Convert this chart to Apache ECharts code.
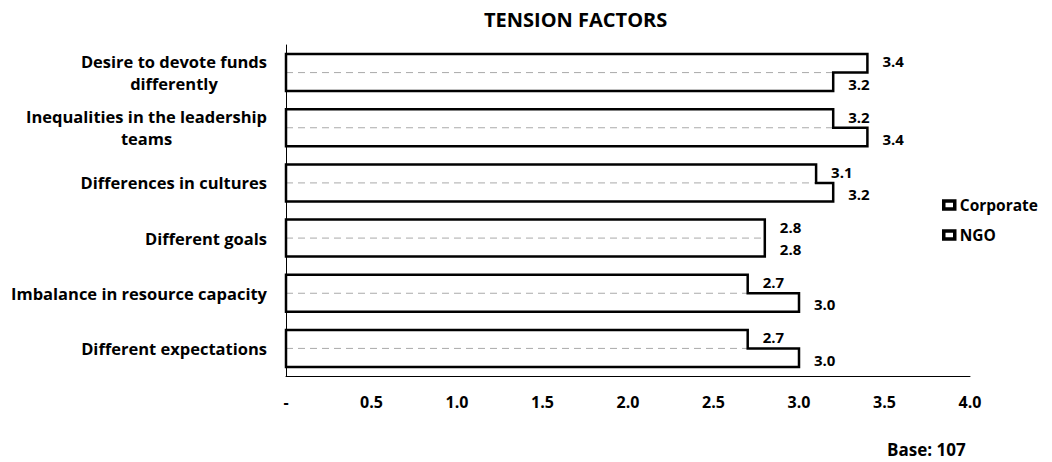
<!DOCTYPE html>
<html>
<head>
<meta charset="utf-8">
<title>Tension factors</title>
<script src="https://cdn.jsdelivr.net/npm/echarts@6/dist/echarts.min.js"></script>
<style>
  html, body { margin: 0; padding: 0; background: #fff; }
  #main { width: 1052px; height: 462px; }
</style>
</head>
<body>
<div id="main"></div>
<script>
// categories, top to bottom
var categories = [
  'Desire to devote funds\ndifferently',
  'Inequalities in the leadership\nteams',
  'Differences in cultures',
  'Different goals',
  'Imbalance in resource capacity',
  'Different expectations'
];
var corporate = [3.4, 3.2, 3.1, 2.8, 2.7, 2.7];
var ngo = [3.2, 3.4, 3.2, 2.8, 3.0, 3.0];
var xTicks = [0, 0.5, 1.0, 1.5, 2.0, 2.5, 3.0, 3.5, 4.0];

var FONT = 'Open Sans';
var gap = 0.33; // category gap ratio

// outline of each pair (stepped shape like the original)
var outline = categories.map(function (c, i) { return [i, corporate[i], ngo[i]]; });

function valueLabel(dy) {
  return {
    show: true, position: 'right', distance: 15, offset: [0, dy],
    fontFamily: FONT, fontWeight: 'bold', fontSize: 15, lineHeight: 15, color: '#000',
    formatter: function (p) { return p.value.toFixed(1); }
  };
}

var chart = echarts.init(document.getElementById('main'), null, { renderer: 'svg' });

chart.setOption({
  animation: false,
  textStyle: { fontFamily: FONT },
  title: {
    text: 'TENSION FACTORS',
    left: 479, top: 4,
    textStyle: { fontFamily: FONT, fontWeight: 'bold', fontSize: 20, color: '#000' }
  },
  legend: {
    orient: 'vertical',
    left: 937, top: 192,
    itemWidth: 11, itemHeight: 8, itemGap: 14,
    icon: 'rect',
    textStyle: { fontFamily: FONT, fontWeight: 'bold', fontSize: 15.5, color: '#000' },
    data: [
      { name: 'Corporate', itemStyle: { color: '#fff', borderColor: '#000', borderWidth: 3.5 } },
      { name: 'NGO', itemStyle: { color: '#fff', borderColor: '#000', borderWidth: 3.5 } }
    ]
  },
  grid: { left: 286, right: 82, top: 45, bottom: 86 },
  xAxis: {
    type: 'value',
    min: xTicks[0], max: xTicks[xTicks.length - 1], interval: 0.5,
    splitLine: { show: false },
    axisLine: { show: true, lineStyle: { color: '#000', width: 1 } },
    axisTick: { show: false },
    axisLabel: {
      margin: 18,
      fontFamily: FONT, fontWeight: 'bold', fontSize: 16, color: '#000',
      formatter: function (v) { return v === 0 ? '-' : v.toFixed(1); }
    }
  },
  yAxis: {
    type: 'category',
    inverse: true,
    data: categories,
    axisLine: { show: true, lineStyle: { color: '#000', width: 1 } },
    axisTick: { show: false },
    axisLabel: {
      margin: 19,
      color: '#000',
      formatter: function (v) {
        return v.split('\n').map(function (s) { return '{c|' + s + '}'; }).join('\n');
      },
      rich: {
        c: { fontFamily: FONT, fontWeight: 'bold', fontSize: 16.5, color: '#000', align: 'center', lineHeight: 22 }
      }
    }
  },
  series: [
    {
      name: 'Corporate', type: 'bar', data: corporate,
      barGap: '0%', barCategoryGap: (gap * 100) + '%',
      itemStyle: { color: '#fff' },
      label: valueLabel(-2)
    },
    {
      name: 'NGO', type: 'bar', data: ngo,
      itemStyle: { color: '#fff' },
      label: valueLabel(2)
    },
    {
      type: 'custom', name: 'outline', silent: true, z: 5,
      data: outline,
      encode: { x: [1, 2], y: 0 },
      renderItem: function (params, api) {
        var cat = api.value(0);
        var base = api.coord([0, cat]);
        var xc = api.coord([api.value(1), cat])[0];
        var xn = api.coord([api.value(2), cat])[0];
        var band = api.size([0, 1])[1];
        var h = band * (1 - gap) / 2;
        var x0 = base[0], mid = base[1];
        var top = mid - h, bot = mid + h;
        return {
          type: 'group',
          children: [
            {
              type: 'line',
              shape: { x1: x0, y1: mid, x2: Math.min(xc, xn), y2: mid },
              style: { stroke: '#aaa', lineWidth: 1, lineDash: [7, 5], fill: null }
            },
            {
              type: 'polygon',
              shape: { points: [[x0, top], [xc, top], [xc, mid], [xn, mid], [xn, bot], [x0, bot]] },
              style: { stroke: '#000', lineWidth: 2.5, fill: null }
            }
          ]
        };
      }
    }
  ],
  graphic: [
    {
      type: 'text', left: 887, top: 441,
      style: { text: 'Base: 107', fontFamily: FONT, fontWeight: 'bold', fontSize: 17, fill: '#000' }
    }
  ]
});
</script>
</body>
</html>
